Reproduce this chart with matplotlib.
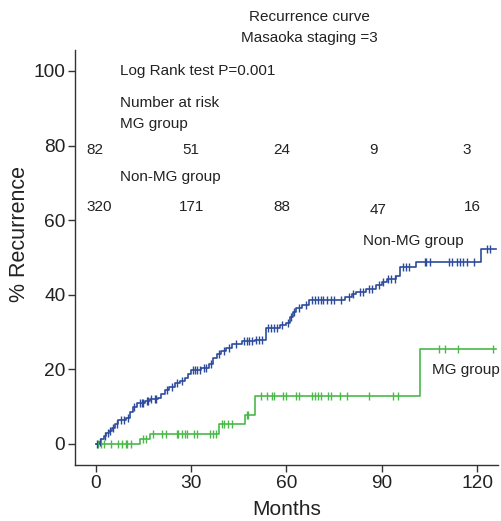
import numpy as np
import matplotlib
matplotlib.use("Agg")
import matplotlib.pyplot as plt

plt.rcParams['font.family'] = ['Liberation Sans', 'DejaVu Sans']

# Non-MG group (blue) step curve: event times (months) and cumulative recurrence (%) after each step
nonmg_times = [0, 1, 1.8, 2.5, 3.3, 4.2, 5, 6, 7, 9.5, 10.8, 11.6, 13, 15.5, 17, 19.5, 20.5, 21.7,
               23, 24.8, 26.5, 28, 29, 30, 33, 35.5, 37, 38, 39.5, 41, 43, 46, 50, 53.5, 58, 60,
               61, 62, 63, 65, 67, 78.5, 80.5, 82, 85, 88, 90, 91.5, 94.5, 95.6, 100.8, 121.3]
nonmg_levels = [0, 0.6, 1.3, 2.2, 3.0, 3.6, 4.4, 5.3, 6.3, 7.0, 8.5, 10.0, 11.0, 11.6, 12.0, 12.4, 13.5, 14.5,
                15.3, 16.3, 17.0, 17.8, 18.8, 19.8, 20.3, 21.5, 23.0, 24.0, 25.0, 25.8, 26.8, 27.5, 27.9, 31.0, 31.8, 32.5,
                34.0, 35.5, 36.5, 37.3, 38.5, 39.3, 40.2, 40.8, 41.6, 42.5, 43.3, 44.2, 44.9, 47.5, 48.9, 52.2]
nonmg_censor = [0.5, 1.5, 2.8, 3.8, 4.6, 5.6, 6.6, 8, 8.8, 10.3, 12, 13.8, 14.5, 15, 16, 16.5, 17.5, 18.5,
                19, 22.3, 24, 25.5, 27.3, 30.5, 31.3, 32, 32.8, 34, 34.8, 36.3, 38.7, 40.3, 42, 44, 46.5,
                47.5, 48.3, 49, 50.5, 51.5, 52.3, 54.3, 55, 56, 57, 58.6, 60.5, 61.5, 62.5, 64, 66, 68, 69,
                70, 71, 71.5, 72.8, 74, 75, 77, 79.5, 81, 83, 84, 86, 87, 89, 90.5, 92, 93, 94, 96.5, 97.5,
                98.4, 103.5, 104, 105, 111, 112, 113.5, 114.5, 115.4, 116.7, 119, 123, 124]
nonmg_end = 126

# MG group (green)
mg_times = [0, 13.8, 17, 38.7, 47, 50, 101.9]
mg_levels = [0, 1.3, 2.8, 5.4, 7.8, 12.9, 25.4]
mg_censor = [0.6, 1.6, 2.5, 4.7, 6.9, 8.2, 9.4, 10, 11, 14.8, 15.7, 18, 21, 22, 25.5, 26, 27, 28, 28.6,
             31, 32, 36, 37, 37.7, 39.6, 40.3, 41.5, 43, 47.5, 48, 52, 54, 55.3, 56, 59, 60, 62.9, 63.8,
             68, 69, 70, 70.8, 73, 74, 76.7, 79, 86, 93.4, 95, 108, 109.7, 114, 124.8]
mg_end = 126

risk_x_mg = [-0.2, 30, 58.5, 87.4, 116.8]
risk_mg = ['82', '51', '24', '9', '3']
risk_x_non = [1.1, 30.1, 58.5, 88.8, 118.4]
risk_non = ['320', '171', '88', '47', '16']

xticks = [0, 30, 60, 90, 120]
yticks = [0, 20, 40, 60, 80, 100]

BLUE = '#2d4b9c'
GREEN = '#4cb84a'

fig = plt.figure(figsize=(5.02, 5.21), dpi=100)
ax = fig.add_axes([0.1494, 0.1075, 0.8426, 0.7965])


def draw(times, levels, censor, end, color):
    t = list(times) + [end]
    l = list(levels) + [levels[-1]]
    ax.step(t, l, where='post', color=color, lw=1.2, zorder=3)
    tarr = np.asarray(times)
    larr = np.asarray(levels)
    c = np.asarray(censor)
    idx = np.searchsorted(tarr, c, side='right') - 1
    ax.plot(c, larr[idx], ls='none', marker='|', ms=5.5, mew=1.0, color=color, zorder=4)


draw(mg_times, mg_levels, mg_censor, mg_end, GREEN)
draw(nonmg_times, nonmg_levels, nonmg_censor, nonmg_end, BLUE)

ax.set_xlim(-6.5, 126.5)
ax.set_ylim(-5.63, 105.6)
ax.set_xticks(xticks)
ax.set_yticks(yticks)
for s in ['top', 'right']:
    ax.spines[s].set_visible(False)
for s in ['left', 'bottom']:
    ax.spines[s].set_color('#333333')
    ax.spines[s].set_linewidth(1.0)
ax.tick_params(axis='both', direction='out', length=5, width=1.0, color='#333333',
               labelsize=13.8, labelcolor='#222222', pad=2)
ax.set_xlabel('Months', fontsize=15, color='#222222', labelpad=6)
ax.set_ylabel('% Recurrence', fontsize=15.5, color='#222222')
ax.yaxis.set_label_coords(-0.106, 0.557)

tc = '#222222'
fs = 11
fig.text(0.617, 0.967, 'Recurrence curve', ha='center', va='center', fontsize=fs, color=tc)
fig.text(0.617, 0.927, 'Masaoka staging =3', ha='center', va='center', fontsize=fs, color=tc)

ax.text(7.5, 100, 'Log Rank test P=0.001', ha='left', va='center', fontsize=fs, color=tc)
ax.text(7.5, 91.4, 'Number at risk', ha='left', va='center', fontsize=fs, color=tc)
ax.text(7.5, 85.8, 'MG group', ha='left', va='center', fontsize=fs, color=tc)
ax.text(7.5, 71.6, 'Non-MG group', ha='left', va='center', fontsize=fs, color=tc)
for x, s in zip(risk_x_mg, risk_mg):
    ax.text(x, 78.8, s, ha='center', va='center', fontsize=fs, color=tc)
risk_y_non = [63.5, 63.5, 63.5, 62.7, 63.5]
for x, y, s in zip(risk_x_non, risk_y_non, risk_non):
    ax.text(x, y, s, ha='center', va='center', fontsize=fs, color=tc)

ax.text(84, 54.4, 'Non-MG group', ha='left', va='center', fontsize=fs, color=tc)
ax.text(105.7, 19.8, 'MG group', ha='left', va='center', fontsize=fs, color=tc)

fig.savefig('out.png', dpi=100)
